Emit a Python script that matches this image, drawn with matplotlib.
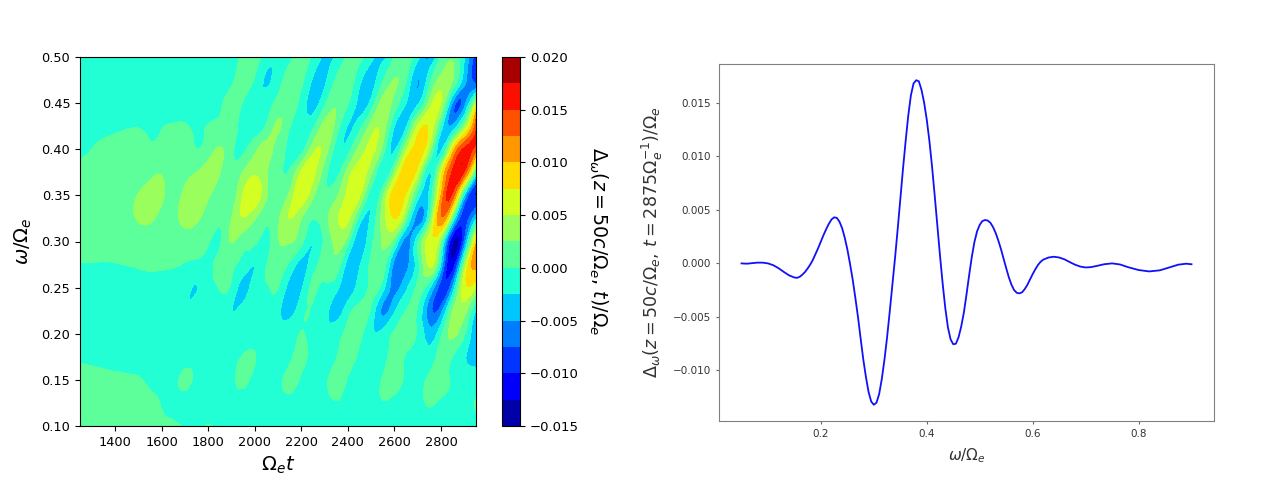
import numpy as np
import matplotlib
matplotlib.use("Agg")
import matplotlib.pyplot as plt
import matplotlib.tri as mtri

W, H = 1280, 480

# contour field, units of 1e-3; columns are t, rows are omega (top of picture first)
t_values = list(range(1250, 2951, 50))
omega_values = [0.50, 0.475, 0.45, 0.425, 0.40, 0.375, 0.35, 0.325, 0.30,
                0.275, 0.25, 0.225, 0.20, 0.175, 0.15, 0.125, 0.10]
delta_rows = [
 [-.5,-.5,-.5,-.5,-.5,-.5,-.5,-.5,-.5,-.5,-.5,-.5,-.5,-.3,.2,.8,-1.2,-2.0,-.5,1.0,-.5,-3.0,-2.2,.6,1.0,-2.0,-3.2,.2,1.2,-1.5,-5.5,.8,2.4,-2.5,-9],
 [-.7,-.7,-.7,-.7,-.7,-.7,-.7,-.7,-.7,-.7,-.7,-.7,-.7,-.2,.6,-.3,-2.8,-1.0,1.0,.6,-2.8,-3.0,.4,1.6,-1.8,-3.4,-.2,2.6,.2,-5,-.8,3.5,2.5,-4,-9],
 [-.6,-.6,-.6,-.6,-.6,-.6,-.6,-.6,-.6,-.6,-.6,-.6,-.2,.5,-.1,-1.8,-1.2,.8,1.5,-1.0,-3.4,-.5,2.3,.2,-3.2,-1.6,3.5,1.5,-2.5,-3.0,3.5,4.8,-5.5,-6,5],
 [-.25,-.25,-.25,-.2,-.1,-.05,-.15,-.05,.1,.1,-.2,.05,.4,.5,-.6,-1.2,.3,2.8,.2,-1.6,-.6,3.5,1.5,-2.6,-1.0,3.5,4.0,-2.5,-2.8,5.5,7,-1,-4.5,3,14],
 [-.2,.0,.2,.4,.6,.5,.2,.5,.7,.6,.05,1.2,2.7,.6,-.5,1.8,3.5,1.2,-.6,-1.0,4.0,4.0,-1.2,-1.2,3.4,5.5,1.5,-2.8,4.5,8.5,4,-3,8,15.5,13.5],
 [.3,.4,.5,.6,.7,1.2,1.8,2.3,1.0,1.5,2.5,3.5,2.6,.7,2.6,4.5,2.8,.5,.3,5.5,6,1.2,-1,3.5,6.2,3,-2,3,9.5,6,-2.5,6,15.5,14.5,-1],
 [.6,.7,.8,.9,1.3,2.6,3.4,3,1.5,3.2,4,2.8,1.0,1.2,5.2,7,2.8,1.2,3.2,6.8,3,.5,2,5.8,5.4,-1.5,2,9,7,-1.2,-2,10,14,-3,-10],
 [.7,.8,.9,1,1.7,2.7,3,1.5,1.6,3.3,3,1.4,.4,2.5,4.8,2.7,.7,2,5,2.6,.1,1.5,4.5,5.5,-1,-2,3.5,7.5,1.5,-6,.5,12,.5,-9,-3],
 [.5,.6,.7,.8,.8,.9,1.1,.9,.9,1.2,1.1,.3,-.3,2.6,1.0,.5,-.8,2.2,2.7,.8,-2.4,.5,3.2,1,-4.2,-.6,2.8,.8,-6,-.5,6.5,2,-12.5,-7,9],
 [-.1,-.1,-.15,-.1,.05,.2,.4,.3,.2,-.1,-.5,-.5,.6,.4,-.9,-2.4,-.1,1,-.5,-3.4,-1.0,.8,1.6,-3.6,-2.8,.5,1.5,-6,-6,-1,5.5,-3,-11.5,3,11],
 [-1,-1,-1,-1,-1,-1,-.9,-.9,-.9,-1.4,-2.6,-.8,.1,-.5,-3.4,-1,-.2,.05,-3.8,-3,.3,-.4,-1.7,-4,-1.5,.6,-1.5,-5.8,-3,.5,-2,-9,-4.5,6.5,5],
 [-1,-1,-1,-1,-1,-1,-1,-1,-1,-2.0,-.9,-.8,-.8,-2.4,-1.5,-.8,-.7,-1.8,-3.6,-.8,-.2,-1.5,-3.6,-1,.8,-.5,-5.5,-2.8,.1,-.3,-6.5,-6,2.5,3.5,-2.7],
 [-1,-1,-1,-1,-1,-1,-1,-1,-1,-1,-1,-1,-1,-1,-1,-.9,-.9,-1.2,-.8,.05,-.6,-1.6,-.9,.5,.6,-2.0,-1.6,.2,.8,-.4,-3.8,-.5,3,.3,-5],
 [-.3,-.4,-.5,-.6,-.6,-.6,-.7,-.7,-.7,-.7,-.7,-.7,-.7,-.5,.15,.1,-.7,-.8,-.4,.5,-.7,-.9,-.1,.9,-.4,-.9,-.8,.9,-.2,-1,-1.5,1,-.1,-2.3,-3.5],
 [.6,.5,.4,.3,.2,.1,-.2,-.5,-.6,.4,-.5,-.7,-.7,-.4,.4,-.5,-.6,-.5,.6,-.3,-.7,-.4,.9,-.2,-.7,-.4,.2,.9,-.3,-.7,.5,.9,-.3,-1.2,-1.3],
 [.8,.8,.7,.7,.6,.5,.3,-.1,-.5,-.6,-.7,-.7,-.7,-.7,-.6,-.6,-.6,-.6,-.5,-.6,-.6,-.6,-.1,-.5,-.6,-.6,-.1,-.5,-.6,-.6,.2,-.3,-.5,-.5,.1],
 [.7,.7,.7,.7,.7,.6,.5,.4,.3,-.1,-.5,.1,-.5,-.6,-.6,-.6,-.6,-.6,-.6,-.6,-.6,-.6,-.6,-.6,-.6,-.6,-.6,-.6,-.6,-.6,-.6,-.6,-.6,-.6,-.6],
]

# spectrum at t = 2875
omega_cut = [.05,.06,.07,.08,.09,.10,.11,.12,.13,.14,.15,.155,.16,.165,.17,.175,
 .18,.185,.19,.195,.20,.205,.21,.215,.22,.225,.23,.235,.24,.245,.25,.255,.26,.265,.27,.275,.28,.285,.29,.295,
 .30,.305,.31,.315,.32,.325,.33,.335,.34,.345,.35,.355,.36,.365,.37,.375,.38,.385,.39,.395,
 .40,.405,.41,.415,.42,.425,.43,.435,.44,.445,.45,.455,.46,.465,.47,.475,.48,.485,.49,.495,
 .50,.505,.51,.515,.52,.525,.53,.535,.54,.545,.55,.555,.56,.565,.57,.575,.58,.585,.59,.595,
 .60,.605,.61,.615,.62,.63,.64,.65,.66,.67,.68,.69,.70,.71,.72,.735,.75,.765,.78,.80,.82,.84,.86,.875,.89,.90]
delta_cut = [0,-.03,.02,.07,.07,0,-.17,-.45,-.8,-1.12,-1.32,-1.35,-1.25,-1.05,-.8,-.47,
 -.1,.35,.9,1.45,2.05,2.65,3.2,3.7,4.1,4.3,4.25,3.9,3.3,2.4,1.3,-.05,-1.5,-3.2,-5.0,-7.0,-8.95,-10.6,-12.0,-12.9,
 -13.2,-13.0,-12.2,-10.8,-9.0,-6.9,-4.5,-2.0,.5,3.2,6.0,8.8,11.4,13.8,15.7,16.8,17.1,17.0,16.2,15.0,
 13.4,11.4,9.0,6.3,3.5,.7,-1.9,-4.2,-6.0,-7.1,-7.55,-7.5,-6.9,-5.9,-4.6,-2.9,-1.1,.6,2.0,3.0,
 3.6,3.95,4.05,4.0,3.8,3.4,2.85,2.15,1.35,.45,-.45,-1.3,-2.0,-2.5,-2.75,-2.8,-2.7,-2.4,-2.0,-1.5,
 -1.0,-.55,-.15,.15,.35,.55,.62,.55,.38,.12,-.12,-.3,-.38,-.35,-.25,-.08,0,-.1,-.35,-.62,-.75,-.65,-.35,-.12,-.03,-.08]

levels = [-.015,-.0125,-.01,-.0075,-.005,-.0025,0,.0025,.005,.0075,.01,.0125,.015,.0175,.02]
x_ticks = [1400,1600,1800,2000,2200,2400,2600,2800]
y_ticks = [.10,.15,.20,.25,.30,.35,.40,.45,.50]
cbar_ticks = [-.015,-.01,-.005,0,.005,.01,.015,.02]
cut_x_ticks = [.2,.4,.6,.8]
cut_y_ticks = [-.01,-.005,0,.005,.01,.015]


def box(x0, y0, x1, y1):
    return [x0 / W, 1 - y1 / H, (x1 - x0) / W, (y1 - y0) / H]


fig = plt.figure(figsize=(W / 100, H / 100), dpi=100)

ax = fig.add_axes(box(80, 57, 476, 426))
Z = np.array(delta_rows) * 1e-3
T, O = np.meshgrid(t_values, omega_values)
# split each grid cell along the diagonal that follows the slant of the stripes
n_rows, n_cols = Z.shape
cells = []
for r in range(n_rows - 1):
    for c in range(n_cols - 1):
        tl, tr = r * n_cols + c, r * n_cols + c + 1
        bl, br = tl + n_cols, tr + n_cols
        cells.append((tl, bl, tr))
        cells.append((tr, bl, br))
tri = mtri.Triangulation(T.ravel(), O.ravel(), triangles=cells)
refiner = mtri.UniformTriRefiner(tri)
fine_tri, fine_z = refiner.refine_field(Z.ravel(), subdiv=3)
fine_z = np.clip(fine_z, levels[0], levels[-1])
cf = ax.tricontourf(fine_tri, fine_z, levels=levels, cmap="jet")
ax.set_xlim(1250, 2950)
ax.set_ylim(.10, .50)
ax.set_xticks(x_ticks)
ax.set_yticks(y_ticks)
ax.set_yticklabels([f"{v:.2f}" for v in y_ticks])
ax.tick_params(labelsize=9.3)
ax.set_xlabel(r"$\Omega_e t$", fontsize=14)
ax.set_ylabel(r"$\omega/\Omega_e$", fontsize=14, labelpad=5)

cax = fig.add_axes(box(502, 57, 520, 426))
cb = fig.colorbar(cf, cax=cax)
cb.set_ticks(cbar_ticks)
cb.set_ticklabels([f"{v:.3f}".replace("-", "\u2212") for v in cbar_ticks])
cb.ax.tick_params(labelsize=9.5)
cb.set_label(r"$\Delta_\omega(z=50c/\Omega_e,\,t)/\Omega_e$", rotation=270, fontsize=13.7, labelpad=22)

ax2 = fig.add_axes(box(719, 64, 1214, 421))
ax2.plot(omega_cut, np.array(delta_cut) * 1e-3, color="#1010fa", lw=1.3)
ax2.set_xticks(cut_x_ticks)
ax2.set_yticks(cut_y_ticks)
ax2.set_yticklabels([f"{v:.3f}".replace("-", "\u2212") for v in cut_y_ticks])
ax2.tick_params(labelsize=7.5, color="#666666", labelcolor="#333333", length=2.5)
for s in ax2.spines.values():
    s.set_color("#808080")
ax2.set_xlabel(r"$\omega/\Omega_e$", fontsize=11, color="#333333", labelpad=5)
ax2.set_ylabel(r"$\Delta_\omega(z=50c/\Omega_e,\,t=2875\Omega_e^{-1})/\Omega_e$", fontsize=12.6, color="#333333", labelpad=5)

fig.savefig("out.png", dpi=100)
